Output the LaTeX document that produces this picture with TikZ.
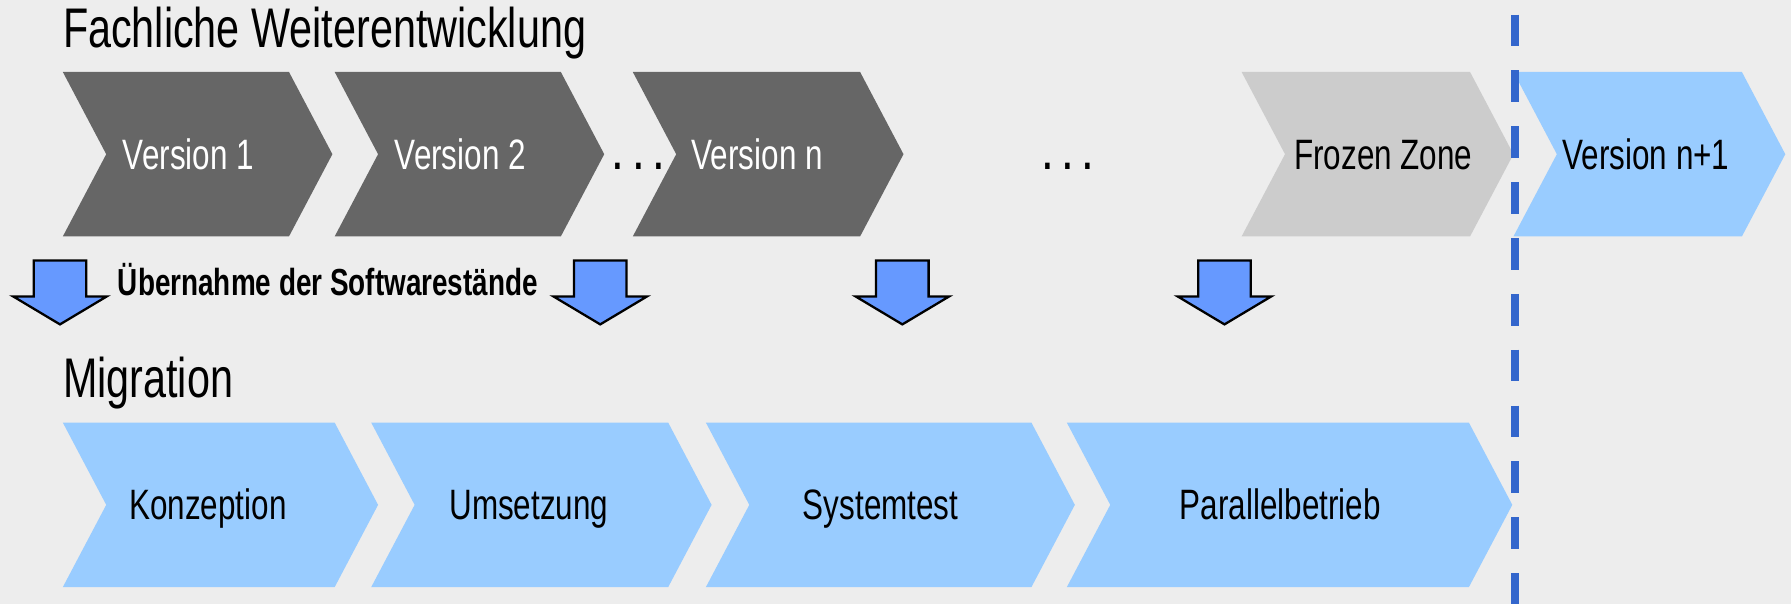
\documentclass[tikz,border=0pt]{standalone}
\usepackage{fontspec}
\setmainfont{Liberation Sans}[FakeStretch=0.74]
\definecolor{bgc}{HTML}{EDEDED}
\definecolor{darkc}{HTML}{666666}
\definecolor{frozenc}{HTML}{CCCCCC}
\definecolor{lightb}{HTML}{99CCFF}
\definecolor{arrowb}{HTML}{6699FF}
\definecolor{dashb}{HTML}{3366CC}
\newcommand{\mychev}[5]{% L R top bot color
  \fill[#5] (#1,#3) -- (#2,#3) -- ({#2+38},{(#3+#4)/2}) -- (#2,#4) -- (#1,#4) -- ({#1+38},{(#3+#4)/2}) -- cycle;}
\newcommand{\mydown}[1]{%
  \filldraw[fill=arrowb,draw=black,line width=2pt,line join=miter]
  ({#1-23},228) -- ({#1+23},228) -- ({#1+23},259.5) -- ({#1+41},259.5) -- (#1,284) -- ({#1-41},259.5) -- ({#1-23},259.5) -- cycle;}
\tikzset{
  titletxt/.style={anchor=base west, inner sep=0pt, font=\fontsize{48.9}{56}\selectfont},
  chevtxt/.style={anchor=base, inner sep=0pt, font=\fontsize{37.2}{44}\selectfont},
  dotstxt/.style={anchor=base, inner sep=0pt, font=\bfseries\fontsize{37.2}{44}\selectfont},
  boldtxt/.style={anchor=base west, inner sep=0pt, font=\bfseries\fontsize{33}{40}\selectfont},
}
\begin{document}
\begin{tikzpicture}[x=1pt,y=-1pt]
\fill[bgc] (0,0) rectangle (1568,529);
\useasboundingbox (0,0) rectangle (1568,529);
% row 1
\mychev{55}{253}{63}{207}{darkc}
\mychev{293}{491}{63}{207}{darkc}
\mychev{554}{753}{63}{207}{darkc}
\mychev{1087}{1287}{63}{207}{frozenc}
\mychev{1325}{1525}{63}{207}{lightb}
% row 3
\mychev{55}{293}{370}{514}{lightb}
\mychev{325}{585}{370}{514}{lightb}
\mychev{618}{903}{370}{514}{lightb}
\mychev{934}{1286}{370}{514}{lightb}
% dashed line
\coordinate (dtop) at (1326,12.8);
\coordinate (dbot) at (1326,529);
\draw[dashb, line width=7pt, dash pattern=on 27.7pt off 21.2pt] (dtop) -- (dbot);
% titles
\node[titletxt] (t1) at (55,42) {Fachliche Weiterentwicklung};
\node[titletxt] (t2) at (55,348) {Migration};
% chevron texts
\node[chevtxt, text=white] (v1) at (165,148) {Version 1};
\node[chevtxt, text=white] (v2) at (403,148) {Version 2};
\node[dotstxt] (d1) at (559,148) {. . .};
\node[chevtxt, text=white] (vn) at (663,148) {Version n};
\node[dotstxt] (d2) at (935,148) {. . .};
\node[chevtxt] (fz) at (1211,148) {Frozen Zone};
\node[chevtxt] (vn1) at (1441,148) {Version n+1};
\node[chevtxt] (k) at (182,455) {Konzeption};
\node[chevtxt] (u) at (463,455) {Umsetzung};
\node[chevtxt] (s) at (771,455) {Systemtest};
\node[chevtxt] (p) at (1121,455) {Parallelbetrieb};
% arrows
\mydown{52.5}
\mydown{525.5}
\mydown{790}
\mydown{1072}
\node[boldtxt] (ub) at (103,259) {Übernahme der Softwarestände};
\end{tikzpicture}
\end{document}
